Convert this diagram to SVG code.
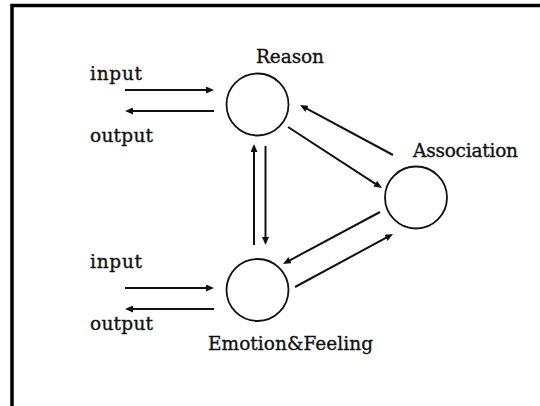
<svg xmlns="http://www.w3.org/2000/svg" width="540" height="406" viewBox="0 0 540 406">
  <style>
    .node { fill: none; stroke: #111; stroke-width: 1.8; }
    .lbl { font-family: "DejaVu Serif", "Liberation Serif", serif; font-size: 18.5px; fill: #111; stroke: #111; stroke-width: 0.35; }
    .arr { stroke: #111; stroke-width: 2; fill: none; marker-end: url(#head); }
  </style>
  <defs>
    <marker id="head" markerUnits="userSpaceOnUse" markerWidth="8" markerHeight="7" refX="3" refY="3.5" orient="auto">
      <path d="M0,0 L8,3.5 L0,7 z" fill="#111"/>
    </marker>
  </defs>
  <rect width="540" height="406" fill="#fff"/>
  <!-- frame: top and left edges only -->
  <path d="M12 406 V5.5 H540" fill="none" stroke="#000" stroke-width="3.5"/>

  <g id="reason">
    <circle class="node" cx="257.5" cy="104.5" r="31"/>
    <text class="lbl" x="256" y="63" textLength="68" lengthAdjust="spacing">Reason</text>
  </g>
  <g id="association">
    <circle class="node" cx="416" cy="197.5" r="31"/>
    <text class="lbl" x="413" y="157" textLength="105" lengthAdjust="spacing">Association</text>
  </g>
  <g id="emotion">
    <circle class="node" cx="257.5" cy="290" r="31"/>
    <text class="lbl" x="208" y="350" textLength="165" lengthAdjust="spacing">Emotion&amp;Feeling</text>
  </g>
  <g id="io-top">
    <text class="lbl" x="90" y="80" textLength="52" lengthAdjust="spacing">input</text>
    <text class="lbl" x="90" y="142" textLength="63" lengthAdjust="spacing">output</text>
  </g>
  <g id="io-bottom">
    <text class="lbl" x="90" y="268" textLength="52" lengthAdjust="spacing">input</text>
    <text class="lbl" x="90" y="330" textLength="63" lengthAdjust="spacing">output</text>
  </g>

  <g id="connectors">
    <line class="arr" x1="125" y1="90" x2="209" y2="90"/>
    <line class="arr" x1="214" y1="111" x2="130" y2="111"/>
    <line class="arr" x1="125" y1="288" x2="209" y2="288"/>
    <line class="arr" x1="214" y1="309" x2="130" y2="309"/>
    <line class="arr" x1="254" y1="245" x2="254" y2="149"/>
    <line class="arr" x1="265.5" y1="146" x2="265.5" y2="240"/>
    <line class="arr" x1="288" y1="127" x2="377.8" y2="185.3"/>
    <line class="arr" x1="393" y1="155" x2="304.4" y2="107.4"/>
    <line class="arr" x1="380" y1="212" x2="287.4" y2="261.6"/>
    <line class="arr" x1="295" y1="287" x2="388.6" y2="236.4"/>
  </g>
</svg>
